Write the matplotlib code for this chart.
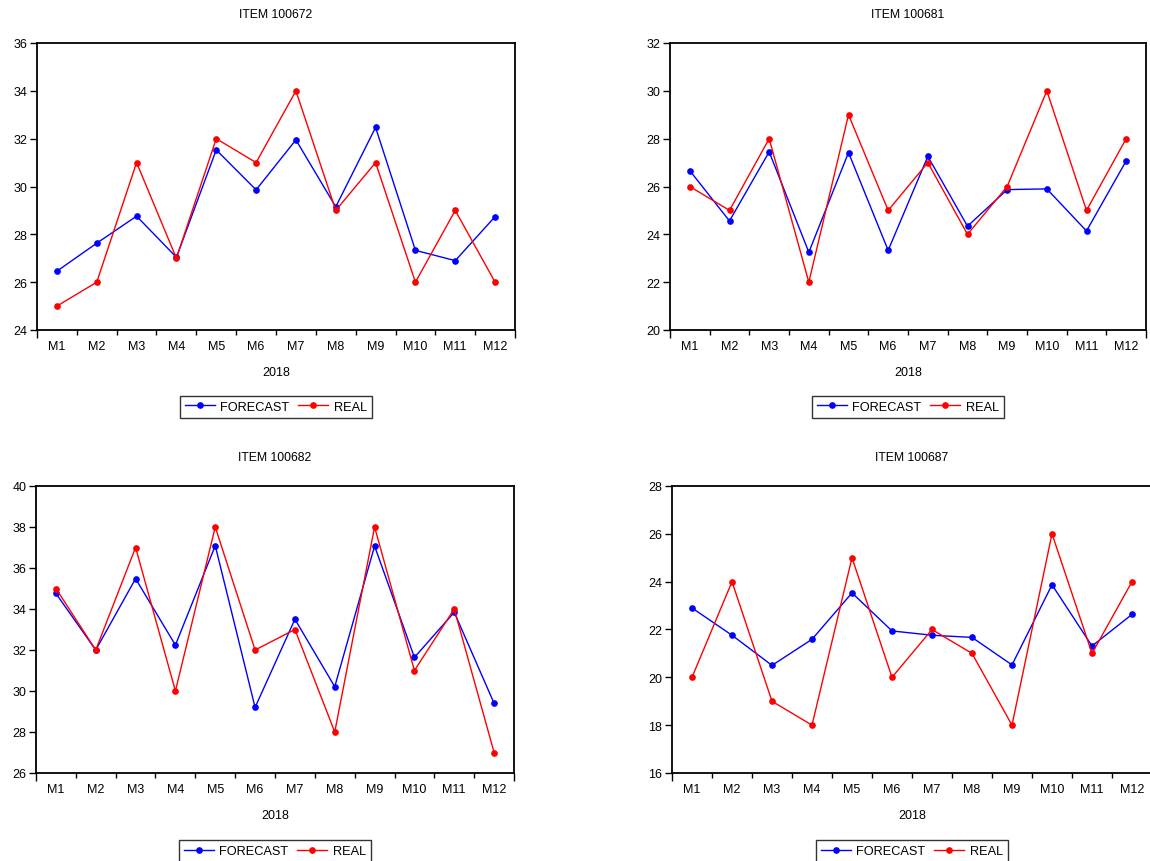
import matplotlib
matplotlib.use("Agg")
import matplotlib.pyplot as plt
from matplotlib.lines import Line2D

plt.rcParams["font.family"] = ["Liberation Sans", "DejaVu Sans"]

months = ["M1", "M2", "M3", "M4", "M5", "M6", "M7", "M8", "M9", "M10", "M11", "M12"]
year_label = "2018"

titles = ["ITEM 100672", "ITEM 100681", "ITEM 100682", "ITEM 100687"]

forecast_100672 = [26.46, 27.63, 28.76, 27.04, 31.53, 29.86, 31.95, 29.15, 32.47, 27.33, 26.90, 28.74]
real_100672 = [25, 26, 31, 27, 32, 31, 34, 29, 31, 26, 29, 26]

forecast_100681 = [26.66, 24.56, 27.45, 23.25, 27.42, 23.33, 27.26, 24.34, 25.87, 25.90, 24.14, 27.07]
real_100681 = [26, 25, 28, 22, 29, 25, 27, 24, 26, 30, 25, 28]

forecast_100682 = [34.76, 32.00, 35.48, 32.24, 37.09, 29.20, 33.50, 30.21, 37.07, 31.64, 33.84, 29.40]
real_100682 = [35, 32, 37, 30, 38, 32, 33, 28, 38, 31, 34, 27]

forecast_100687 = [22.90, 21.76, 20.50, 21.59, 23.53, 21.94, 21.76, 21.67, 20.52, 23.87, 21.31, 22.63]
real_100687 = [20, 24, 19, 18, 25, 20, 22, 21, 18, 26, 21, 24]

y_ranges = [(24, 36), (20, 32), (26, 40), (16, 28)]

W, H = 1150, 862
fig = plt.figure(figsize=(W / 100, H / 100), dpi=100)
fig.patch.set_facecolor("white")

# axes boxes in pixels: left, top, right, bottom
boxes = [
    (37, 44, 515, 331),
    (670, 44, 1146, 331),
    (36, 487, 514, 774),
    (672, 487, 1152, 774),
]

panels = [
    (forecast_100672, real_100672),
    (forecast_100681, real_100681),
    (forecast_100682, real_100682),
    (forecast_100687, real_100687),
]

FS = 9.0
BLUE = "#0000ff"
RED = "#ff0000"

for i, ((fc, rl), (l, t, r, b)) in enumerate(zip(panels, boxes)):
    ax = fig.add_axes([l / W, 1 - b / H, (r - l) / W, (b - t) / H])
    x = list(range(len(months)))
    ax.plot(x, fc, color=BLUE, lw=1.0, marker="o", ms=3.8, label="FORECAST")
    ax.plot(x, rl, color=RED, lw=1.0, marker="o", ms=3.8, label="REAL")

    ax.set_xlim(-0.5, len(months) - 0.5)
    ax.set_ylim(*y_ranges[i])
    ax.set_yticks(range(y_ranges[i][0], y_ranges[i][1] + 1, 2))
    ax.tick_params(axis="y", direction="out", length=5, width=1, pad=2,
                   labelsize=FS, colors="black")

    # category boundaries: longer ticks at the ends, short ones between
    ax.set_xticks([-0.5, len(months) - 0.5])
    ax.set_xticks([k + 0.5 for k in range(len(months) - 1)], minor=True)
    ax.tick_params(axis="x", which="major", direction="out", length=6, width=1,
                   labelbottom=False)
    ax.tick_params(axis="x", which="minor", direction="out", length=3.5, width=1)

    for s in ax.spines.values():
        s.set_linewidth(1.3)
        s.set_color("black")

    sec = ax.secondary_xaxis("bottom")
    sec.set_xticks(x, labels=months)
    sec.tick_params(length=0, pad=7.5, labelsize=FS)
    sec.spines["bottom"].set_visible(False)
    sec.set_xlabel(year_label, fontsize=FS, labelpad=9.5)

    ax.set_title(titles[i], fontsize=8.8, pad=18.5)

    handles = [
        Line2D([], [], color=BLUE, lw=1.0, marker="o", ms=3.8),
        Line2D([], [], color=RED, lw=1.0, marker="o", ms=3.8),
    ]
    leg = ax.legend(handles, ["FORECAST", "REAL"], loc="center",
                    bbox_to_anchor=(0.5, -0.268 if i < 2 else -0.272),
                    ncol=2, fontsize=9.2, frameon=True, fancybox=False,
                    edgecolor="black", handlelength=2.3, handletextpad=0.45,
                    columnspacing=0.7, borderpad=0.4, borderaxespad=0)
    leg.get_frame().set_linewidth(1.0)

fig.savefig("out.png", dpi=100, facecolor="white")
